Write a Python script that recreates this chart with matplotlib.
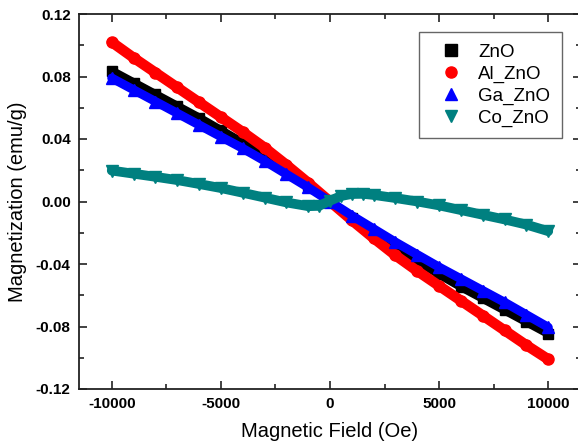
import matplotlib
matplotlib.use("Agg")
import matplotlib.pyplot as plt
from matplotlib.lines import Line2D
from matplotlib.ticker import MultipleLocator, FormatStrFormatter

plt.rcParams['font.family'] = ['Liberation Sans', 'DejaVu Sans']
plt.rcParams['axes.unicode_minus'] = False

# field values (Oe)
field = [-10000, -9000, -8000, -7000, -6000, -5000, -4000, -3000, -2000, -1000, 0,
         1000, 2000, 3000, 4000, 5000, 6000, 7000, 8000, 9000, 10000]

# magnetization (emu/g)
m_zno = [0.0835, 0.076, 0.0685, 0.061, 0.0535, 0.0455, 0.0375, 0.029, 0.020, 0.0105, 0.0,
         -0.0105, -0.0205, -0.0295, -0.038, -0.0465, -0.0545, -0.062, -0.0695, -0.077, -0.0845]
m_al = [0.102, 0.092, 0.0825, 0.073, 0.0635, 0.054, 0.0445, 0.0345, 0.0235, 0.012, 0.0,
        -0.012, -0.0235, -0.0345, -0.0445, -0.054, -0.0635, -0.073, -0.0825, -0.092, -0.101]
m_ga = [0.079, 0.0715, 0.064, 0.0565, 0.049, 0.0415, 0.034, 0.026, 0.0175, 0.009, 0.0,
        -0.009, -0.0175, -0.026, -0.034, -0.042, -0.0495, -0.057, -0.0645, -0.0725, -0.0805]

field_co = [-10000, -9000, -8000, -7000, -6000, -5000, -4000, -3000, -2000, -1000, -500, 0,
            500, 1000, 1500, 2000, 3000, 4000, 5000, 6000, 7000, 8000, 9000, 10000]
m_co = [0.0198, 0.0178, 0.0158, 0.0137, 0.0112, 0.0086, 0.0056, 0.0025, -0.0006, -0.003, -0.0028, 0.0005,
        0.0035, 0.0048, 0.0049, 0.0042, 0.0022, 0.0, -0.0025, -0.0055, -0.0085, -0.0115, -0.0148, -0.019]

labels = ['ZnO', 'Al_ZnO', 'Ga_ZnO', 'Co_ZnO']
colors = ['black', 'red', 'blue', '#008080']
markers = ['s', 'o', '^', 'v']

fig = plt.figure(figsize=(5.78, 4.46), dpi=100)
ax = fig.add_axes([79 / 578, 1 - 389 / 446, 502 / 578, 375 / 446])

series = [(field, m_zno), (field, m_al), (field, m_ga), (field_co, m_co)]
sizes = [7, 8, 8, 8]
widths = [6.5, 7.5, 6.5, 7]
for (xs, ys), c, mk, ms, lw in zip(series, colors, markers, sizes, widths):
    ax.plot(xs, ys, color=c, lw=lw, marker=mk, ms=ms, mec=c, solid_capstyle='round')

ax.set_xlim(-11500, 11500)
ax.set_ylim(-0.12, 0.12)
ax.xaxis.set_major_locator(MultipleLocator(5000))
ax.xaxis.set_minor_locator(MultipleLocator(2500))
ax.yaxis.set_major_locator(MultipleLocator(0.04))
ax.yaxis.set_minor_locator(MultipleLocator(0.02))
ax.yaxis.set_major_formatter(FormatStrFormatter('%.2f'))

ax.tick_params(which='both', direction='in', top=True, right=True, width=1.2, color='#222222')
ax.tick_params(which='major', length=6, labelsize=11, pad=6)
ax.tick_params(which='minor', length=3.5)
for lab in ax.get_xticklabels() + ax.get_yticklabels():
    lab.set_fontweight('bold')
for sp in ax.spines.values():
    sp.set_linewidth(1.3)
    sp.set_color('#222222')

ax.set_xlabel('Magnetic Field (Oe)', fontsize=14.5, labelpad=8)
ax.set_ylabel('Magnetization (emu/g)', fontsize=14.5, labelpad=6)

handles = [Line2D([], [], ls='none', marker=mk, color=c, ms=8) for c, mk in zip(colors, markers)]
leg = ax.legend(handles, labels, loc='upper right', fontsize=13.5, fancybox=False, edgecolor='#666666',
                framealpha=1, handletextpad=0.32, labelspacing=0.25, borderpad=0.62, handlelength=2.24,
                borderaxespad=0)
leg.get_frame().set_linewidth(1.0)
leg.set_bbox_to_anchor((562 / 578, 1 - 32 / 446), transform=fig.transFigure)

fig.savefig('out.png', dpi=100)
